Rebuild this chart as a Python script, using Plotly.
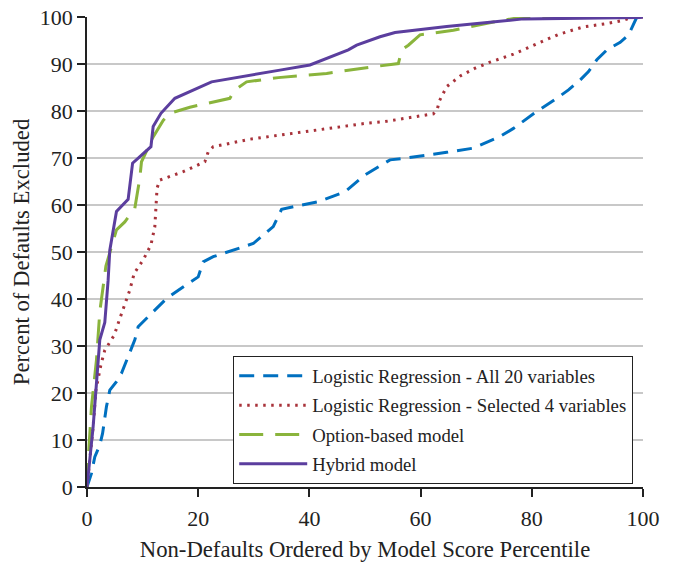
import plotly.graph_objects as go

hyb_x = [0, 1.1, 2.3, 3.2, 3.8, 4.1, 5.3, 7.4, 8.2, 11.5, 11.9, 13.3, 15.8, 22.4, 34.7, 40.1, 47, 48.5, 52.7, 55.4, 64.7, 78.5, 99.5, 100]
hyb_y = [0, 12.8, 31.3, 35, 44, 50.4, 58.6, 61.2, 68.9, 72.4, 76.7, 79.5, 82.7, 86.2, 88.7, 89.8, 93, 94, 95.8, 96.7, 98, 99.6, 99.9, 100]

opt_x = [0, 0.25, 0.8, 1.7, 2.3, 3.4, 5.3, 6.8, 8.6, 9.5, 9.8, 11.9, 13.7, 14.9, 18.5, 25.7, 26.6, 28.7, 34.4, 43.1, 51.4, 54.2, 56, 56.6, 57.8, 59.9, 65.9, 74.3, 78.4, 100]
opt_y = [0, 6.4, 17, 27, 37.3, 47, 54.7, 56.4, 59.3, 65.7, 69.2, 74.5, 78, 79.5, 80.8, 82.7, 84.5, 86.2, 87.1, 88.0, 89.4, 89.8, 90.1, 93, 94, 96.2, 97.2, 99.2, 100, 100]

sel_x = [0, 0.25, 1.1, 1.6, 2.5, 3.2, 4.9, 5.8, 6.8, 7.7, 8.5, 10.1, 11.5, 12.2, 12.6, 13.1, 17.3, 21.2, 21.8, 22.7, 29.3, 40.1, 50.3, 53.3, 62.3, 63, 63.4, 64.7, 67.2, 69.8, 72.5, 76.7, 80.9, 84.8, 89.3, 93.5, 96.5, 98.2, 100]
sel_y = [0, 3, 12.8, 20.6, 26, 29.1, 32.3, 35.5, 39, 41.9, 45.5, 48.3, 51.5, 55.4, 63.6, 65.3, 67.1, 69.2, 71.3, 72.4, 74.0, 75.7, 77.4, 77.7, 79.4, 80.4, 82.2, 85.2, 87.5, 89.1, 90.4, 92.1, 94.2, 96.3, 97.9, 98.6, 99.3, 100, 100]

all_x = [0, 0.8, 1.4, 2.3, 2.8, 3.1, 3.5, 4.1, 5.3, 6.2, 7.4, 8.6, 9.2, 12.2, 14.3, 16.1, 20, 20.9, 22.7, 29.9, 33.5, 35, 41.6, 46.4, 48.5, 50, 54.5, 56.9, 64.7, 69.5, 74, 76.7, 80.3, 82.4, 84.5, 86.6, 88.7, 90.2, 91.7, 93.5, 95.9, 97.4, 98.6, 98.9, 100]
all_y = [0, 2.9, 6.4, 8.9, 11.4, 14.3, 17.1, 20.6, 22.4, 24.2, 27.7, 31.3, 34.1, 37.7, 40.1, 41.6, 44.7, 47.9, 49.0, 51.8, 55.4, 59.1, 60.7, 62.8, 65.0, 66.4, 69.6, 69.9, 71.2, 72.1, 74.4, 76.3, 79.4, 81, 82.7, 84.5, 86.6, 88.4, 90.9, 93, 94.6, 96.2, 99, 100, 100]

names = ["Logistic Regression - All 20 variables",
         "Logistic Regression - Selected 4 variables",
         "Option-based model",
         "Hybrid model"]

font = "Liberation Serif"

fig = go.Figure()
fig.add_trace(go.Scatter(x=all_x, y=all_y, mode="lines", name=names[0], legendgroup="a",
                         line=dict(color="#0070C0", width=3, dash="15px,9px")))
fig.add_trace(go.Scatter(x=sel_x, y=sel_y, mode="lines", name=names[1], legendgroup="b",
                         line=dict(color="#A8323A", width=3, dash="2.5px,5.5px")))
fig.add_trace(go.Scatter(x=opt_x, y=opt_y, mode="lines", name=names[2], legendgroup="c",
                         line=dict(color="#8AB43C", width=3, dash="24px,12px")))
fig.add_trace(go.Scatter(x=hyb_x, y=hyb_y, mode="lines", name=names[3], legendgroup="d",
                         line=dict(color="#5B3E9E", width=3)))

fig.update_layout(
    width=674, height=565,
    margin=dict(l=87, r=31, t=17, b=78),
    paper_bgcolor="white", plot_bgcolor="white",
    font=dict(family=font, size=22, color="#222"),
    legend=dict(x=0.2626, y=0.2787, xanchor="left", yanchor="top",
                bordercolor="#222", borderwidth=1.2, bgcolor="white",
                font=dict(family=font, size=18.7, color="#222"),
                itemwidth=68, tracegroupgap=2),
    xaxis=dict(range=[0, 100], tickvals=[0, 20, 40, 60, 80, 100],
               showgrid=False, zeroline=False, showline=True, linecolor="#222",
               linewidth=1.5, ticks="outside", ticklen=8, tickcolor="#222",
               tickwidth=1.5, ticklabelstandoff=3, ticklabeloverflow="allow",
               automargin=False,
               title=dict(text="Non-Defaults Ordered by Model Score Percentile",
                          font=dict(size=22.7), standoff=11)),
    yaxis=dict(range=[0, 100], tickvals=list(range(0, 101, 10)),
               showgrid=True, gridcolor="#C8C8C8", gridwidth=1.5,
               zeroline=False, showline=True, linecolor="#222", linewidth=1.5,
               ticks="outside", ticklen=8, tickcolor="#222", tickwidth=1.5,
               ticklabeloverflow="allow", automargin=False,
               title=dict(text="Percent of Defaults Excluded",
                          font=dict(size=22.7), standoff=4)),
)

fig.write_html("out.html", config={"displayModeBar": False},
               post_script="document.body.style.margin='0';document.body.style.overflow='hidden';")
